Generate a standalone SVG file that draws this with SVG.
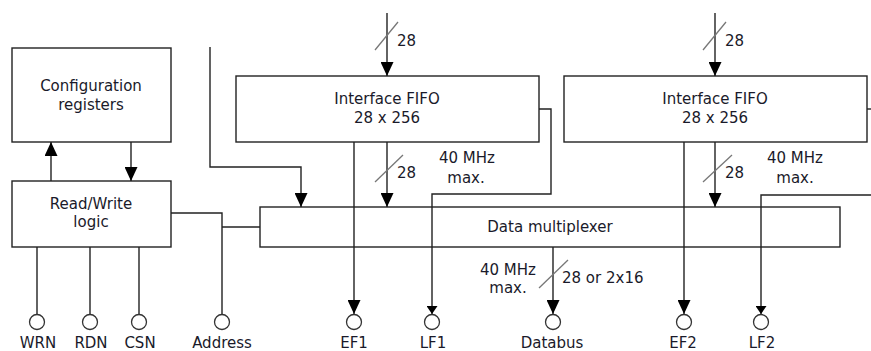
<svg xmlns="http://www.w3.org/2000/svg" width="871" height="351" viewBox="0 0 871 351">
<style>
.box{fill:#fff;stroke:#222;stroke-width:1.4}
.ln{fill:none;stroke:#222;stroke-width:1.4}
.sl{fill:none;stroke:#777;stroke-width:1.3}
.pin{fill:#fff;stroke:#333;stroke-width:1.3}
text{font-family:"DejaVu Sans",Verdana,sans-serif;font-size:15px;fill:#1a1a2a}
.c{text-anchor:middle}
</style>
<defs>
<marker id="big" viewBox="0 0 14 13" refX="14" refY="6.5" markerWidth="14" markerHeight="13" markerUnits="userSpaceOnUse" orient="auto"><path d="M0,0 L14,6.5 L0,13 z" fill="#000"/></marker>
<marker id="small" viewBox="0 0 8 11" refX="8" refY="5.5" markerWidth="8" markerHeight="11" markerUnits="userSpaceOnUse" orient="auto"><path d="M0,0 L8,5.5 L0,11 z" fill="#000"/></marker>
</defs>
<rect width="871" height="351" fill="#fff"/>

<g id="config">
  <rect class="box" x="12" y="48" width="159" height="94"/>
  <text class="c" x="91" y="91">Configuration</text>
  <text class="c" x="91" y="110">registers</text>
</g>
<g id="rwlogic">
  <rect class="box" x="12" y="181" width="159" height="66"/>
  <text class="c" x="91" y="209">Read/Write</text>
  <text class="c" x="91" y="227">logic</text>
</g>
<g id="fifo1">
  <rect class="box" x="236" y="76" width="303" height="66"/>
  <text class="c" x="387" y="104">Interface FIFO</text>
  <text class="c" x="387" y="123">28 x 256</text>
</g>
<g id="fifo2">
  <rect class="box" x="564" y="76" width="303" height="66"/>
  <text class="c" x="715" y="104">Interface FIFO</text>
  <text class="c" x="715" y="123">28 x 256</text>
</g>
<g id="mux">
  <rect class="box" x="260" y="207" width="580" height="40"/>
  <text class="c" x="550" y="232">Data multiplexer</text>
</g>

<g id="connectors">
  <line class="ln" x1="51" y1="181" x2="51" y2="142" marker-end="url(#big)"/>
  <line class="ln" x1="131" y1="142" x2="131" y2="181" marker-end="url(#big)"/>
  <polyline class="ln" points="210,47 210,167 301,167 301,207" marker-end="url(#big)"/>
  <line class="ln" x1="387" y1="13" x2="387" y2="76" marker-end="url(#big)"/>
  <line class="sl" x1="375" y1="50" x2="398" y2="22"/>
  <line class="ln" x1="715" y1="13" x2="715" y2="76" marker-end="url(#big)"/>
  <line class="sl" x1="703" y1="50" x2="726" y2="22"/>
  <line class="ln" x1="387" y1="142" x2="387" y2="207" marker-end="url(#big)"/>
  <line class="sl" x1="375" y1="182" x2="403" y2="155"/>
  <line class="ln" x1="715" y1="142" x2="715" y2="207" marker-end="url(#big)"/>
  <line class="sl" x1="703" y1="182" x2="732" y2="155"/>
  <line class="ln" x1="354" y1="142" x2="354" y2="314" marker-end="url(#big)"/>
  <line class="ln" x1="684" y1="142" x2="684" y2="314" marker-end="url(#big)"/>
  <polyline class="ln" points="539,109 551,109 551,194 432,194 432,314" marker-end="url(#small)"/>
  <line class="ln" x1="867" y1="109" x2="871" y2="109"/>
  <polyline class="ln" points="871,195 761,195 761,314" marker-end="url(#small)"/>
  <line class="ln" x1="553" y1="247" x2="553" y2="314" marker-end="url(#big)"/>
  <line class="sl" x1="539" y1="288" x2="568" y2="260"/>
  <polyline class="ln" points="171,213 222,213 222,314"/>
  <line class="ln" x1="222" y1="227" x2="260" y2="227"/>
  <line class="ln" x1="37" y1="247" x2="37" y2="314"/>
  <line class="ln" x1="90" y1="247" x2="90" y2="314"/>
  <line class="ln" x1="139" y1="247" x2="139" y2="314"/>
</g>

<g id="labels">
  <text x="397" y="46">28</text>
  <text x="725" y="46">28</text>
  <text x="397" y="178">28</text>
  <text x="725" y="178">28</text>
  <text class="c" x="467" y="163">40 MHz</text>
  <text class="c" x="466" y="183">max.</text>
  <text class="c" x="795" y="163">40 MHz</text>
  <text class="c" x="795" y="183">max.</text>
  <text class="c" x="508" y="275">40 MHz</text>
  <text class="c" x="508" y="293">max.</text>
  <text x="562" y="283">28 or 2x16</text>
</g>

<g id="pin-wrn"><circle class="pin" cx="37" cy="322" r="7.5"/><text class="c" x="38" y="348">WRN</text></g>
<g id="pin-rdn"><circle class="pin" cx="90" cy="322" r="7.5"/><text class="c" x="91" y="348">RDN</text></g>
<g id="pin-csn"><circle class="pin" cx="139" cy="322" r="7.5"/><text class="c" x="140" y="348">CSN</text></g>
<g id="pin-address"><circle class="pin" cx="222" cy="322" r="7.5"/><text class="c" x="222" y="348">Address</text></g>
<g id="pin-ef1"><circle class="pin" cx="354" cy="322" r="7.5"/><text class="c" x="354" y="348">EF1</text></g>
<g id="pin-lf1"><circle class="pin" cx="432" cy="322" r="7.5"/><text class="c" x="433" y="348">LF1</text></g>
<g id="pin-databus"><circle class="pin" cx="553" cy="322" r="7.5"/><text class="c" x="552" y="348">Databus</text></g>
<g id="pin-ef2"><circle class="pin" cx="684" cy="322" r="7.5"/><text class="c" x="683" y="348">EF2</text></g>
<g id="pin-lf2"><circle class="pin" cx="761" cy="322" r="7.5"/><text class="c" x="762" y="348">LF2</text></g>
</svg>
